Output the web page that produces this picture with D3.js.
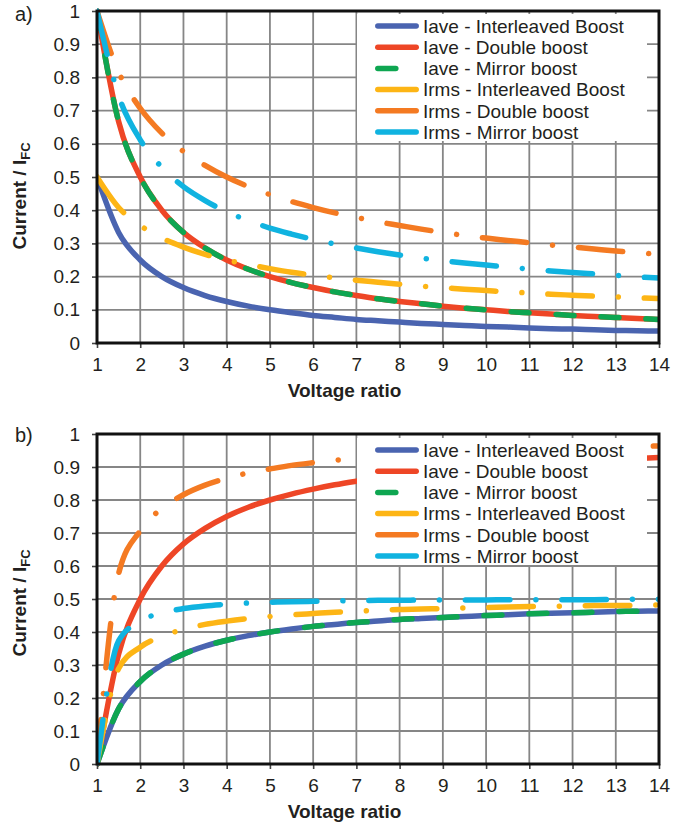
<!DOCTYPE html>
<html><head><meta charset="utf-8">
<script src="https://cdn.jsdelivr.net/npm/d3@7"></script>
<style>body{margin:0;background:#fff}svg{display:block}text{font-family:"Liberation Sans",Arial,Helvetica,sans-serif;fill:#231f20}</style>
</head><body><svg id="c" width="687" height="825"></svg>
<script>
// ---------- data ----------
const voltageRatio = [1,1.5,2,2.5,3,3.5,4,4.5,5,5.5,6,6.5,7,7.5,8,8.5,9,9.5,10,10.5,11,11.5,12,12.5,13,13.5,14];

// chart a)
const aIaveInterleaved = [0.5,0.333,0.25,0.2,0.167,0.143,0.125,0.111,0.1,0.091,0.083,0.077,0.071,0.067,0.063,0.059,0.056,0.053,0.05,0.048,0.045,0.043,0.042,0.04,0.038,0.037,0.036];
const aIaveDouble      = [1,0.667,0.5,0.4,0.333,0.286,0.25,0.222,0.2,0.182,0.167,0.154,0.143,0.133,0.125,0.118,0.111,0.105,0.1,0.095,0.091,0.087,0.083,0.08,0.077,0.074,0.071];
const aIaveMirror      = [1,0.667,0.5,0.4,0.333,0.286,0.25,0.222,0.2,0.182,0.167,0.154,0.143,0.133,0.125,0.118,0.111,0.105,0.1,0.095,0.091,0.087,0.083,0.08,0.077,0.074,0.071];
const aIrmsInterleaved = [0.5,0.408,0.354,0.316,0.289,0.267,0.25,0.236,0.224,0.213,0.204,0.196,0.189,0.183,0.177,0.171,0.167,0.162,0.158,0.154,0.151,0.147,0.144,0.141,0.139,0.136,0.134];
const aIrmsDouble      = [1,0.816,0.707,0.632,0.577,0.535,0.5,0.471,0.447,0.426,0.408,0.392,0.378,0.365,0.354,0.343,0.333,0.324,0.316,0.309,0.302,0.295,0.289,0.283,0.277,0.272,0.267];
const aIrmsMirror      = [1,0.745,0.612,0.529,0.471,0.429,0.395,0.369,0.346,0.328,0.312,0.298,0.286,0.275,0.265,0.256,0.248,0.241,0.235,0.228,0.223,0.217,0.212,0.208,0.204,0.199,0.196];

// chart b)
const bIaveInterleaved = [0,0.167,0.25,0.3,0.333,0.357,0.375,0.389,0.4,0.409,0.417,0.423,0.429,0.433,0.438,0.441,0.444,0.447,0.45,0.452,0.455,0.457,0.458,0.46,0.462,0.463,0.464];
const bIaveDouble      = [0,0.333,0.5,0.6,0.667,0.714,0.75,0.778,0.8,0.818,0.833,0.846,0.857,0.867,0.875,0.882,0.889,0.895,0.9,0.905,0.909,0.913,0.917,0.92,0.923,0.926,0.929];
const bIaveMirror      = [0,0.167,0.25,0.3,0.333,0.357,0.375,0.389,0.4,0.409,0.417,0.423,0.429,0.433,0.438,0.441,0.444,0.447,0.45,0.452,0.455,0.457,0.458,0.46,0.462,0.463,0.464];
const bIrmsInterleaved = [0,0.289,0.354,0.387,0.408,0.423,0.433,0.441,0.447,0.452,0.456,0.46,0.463,0.466,0.468,0.47,0.471,0.473,0.474,0.476,0.477,0.478,0.479,0.48,0.48,0.481,0.482];
const bIrmsDouble      = [0,0.577,0.707,0.775,0.816,0.845,0.866,0.882,0.894,0.905,0.913,0.92,0.926,0.931,0.935,0.939,0.943,0.946,0.949,0.951,0.953,0.956,0.957,0.959,0.961,0.962,0.964];
const bIrmsMirror      = [0,0.373,0.433,0.458,0.471,0.479,0.484,0.488,0.49,0.492,0.493,0.494,0.495,0.496,0.496,0.497,0.497,0.497,0.497,0.498,0.498,0.498,0.498,0.498,0.499,0.499,0.499];

const seriesNames = ["Iave - Interleaved Boost","Iave - Double boost","Iave - Mirror boost","Irms - Interleaved Boost","Irms - Double boost","Irms - Mirror boost"];
const xTickValues = [1,2,3,4,5,6,7,8,9,10,11,12,13,14];
const yTickValues = [0,0.1,0.2,0.3,0.4,0.5,0.6,0.7,0.8,0.9,1];

// ---------- styles ----------
const colors = ["#4a64b0","#ee4626","#0ea651","#fdb515","#f47a22","#10b3e0"];
const dashes = [null, null, "18,27", "44.5,26,0.01,26", "44.5,26,0.01,26", "44.5,26,0.01,26"];
const LW = 5.5;

const svg = d3.select("#c");
svg.append("rect").attr("width",687).attr("height",825).attr("fill","#fff");

function drawChart(cfg, idx){
  const x = d3.scaleLinear().domain([1,14]).range([97,659]);
  const y = d3.scaleLinear().domain([0,1]).range([cfg.y0, cfg.y1]);
  const g = svg.append("g");

  // grid
  g.append("g").selectAll("line").data(xTickValues.slice(1,-1)).join("line")
    .attr("x1",d=>x(d)).attr("x2",d=>x(d)).attr("y1",y(1)).attr("y2",y(0))
    .attr("stroke","#868686").attr("stroke-width",1.8);
  g.append("g").selectAll("line").data(yTickValues.slice(1,-1)).join("line")
    .attr("x1",x(1)).attr("x2",x(14)).attr("y1",d=>y(d)).attr("y2",d=>y(d))
    .attr("stroke","#868686").attr("stroke-width",1.8);

  // clip
  const cid = "clip"+idx;
  svg.append("defs").append("clipPath").attr("id",cid).append("rect")
    .attr("x",x(1)).attr("y",y(1)-8).attr("width",x(14)-x(1)).attr("height",y(0)-y(1)+16);

  const line = d3.line().x((d,i)=>x(voltageRatio[i])).y(d=>y(d)).curve(d3.curveMonotoneX);
  const sg = g.append("g").attr("clip-path",`url(#${cid})`);
  cfg.series.forEach((s,i)=>{
    sg.append("path").attr("d",line(s)).attr("fill","none")
      .attr("stroke",colors[i]).attr("stroke-width",LW)
      .attr("stroke-linecap","round").attr("stroke-linejoin","round")
      .attr("stroke-dasharray",dashes[i]);
  });

  // axes
  const fmt = d=>String(+d.toFixed(1));
  const ax = g.append("g").attr("transform",`translate(${x(1)},0)`)
    .call(d3.axisLeft(y).tickValues(yTickValues).tickFormat(fmt).tickSizeInner(5).tickSizeOuter(0).tickPadding(12));
  const bx = g.append("g").attr("transform",`translate(0,${y(0)})`)
    .call(d3.axisBottom(x).tickValues(xTickValues).tickFormat(d3.format("d")).tickSizeInner(5).tickSizeOuter(0).tickPadding(10));
  [ax,bx].forEach(a=>{
    a.select(".domain").remove();
    a.selectAll("line").attr("stroke","#444").attr("stroke-width",1.6);
    a.selectAll("text").attr("font-size",19).attr("fill","#231f20").attr("font-family","'Liberation Sans',Arial,sans-serif");
  });

  // frame
  g.append("rect").attr("x",x(1)).attr("y",y(1)).attr("width",x(14)-x(1)).attr("height",y(0)-y(1))
    .attr("fill","none").attr("stroke","#111").attr("stroke-width",3);

  // legend
  const lg = g.append("g");
  lg.append("rect").attr("x",357).attr("y",cfg.legTop).attr("width",290).attr("height",127).attr("fill","#fff");
  seriesNames.forEach((n,i)=>{
    const cy = cfg.legTop + 12 + i*21.2;
    lg.append("line").attr("x1",377.8).attr("x2",416.2).attr("y1",cy).attr("y2",cy)
      .attr("stroke",colors[i]).attr("stroke-width",LW).attr("stroke-linecap","round")
      .attr("stroke-dasharray",dashes[i]);
    lg.append("text").attr("x",423).attr("y",cy).attr("dy","0.36em").attr("font-size",19).text(n);
  });

  // titles
  g.append("text").attr("x",344.5).attr("y",cfg.xTitleY).attr("text-anchor","middle")
    .attr("font-size",19).attr("font-weight","bold").text("Voltage ratio");
  const yt = g.append("text").attr("transform",`translate(26,${cfg.yTitleMid}) rotate(-90)`)
    .attr("text-anchor","middle").attr("font-size",19).attr("font-weight","bold");
  yt.append("tspan").text("Current / I");
  yt.append("tspan").attr("font-size",13).attr("dy",4).text("FC");
  g.append("text").attr("x",15).attr("y",cfg.tagY).attr("font-size",20).text(cfg.tag);
}

drawChart({y0:343,y1:11,series:[aIaveInterleaved,aIaveDouble,aIaveMirror,aIrmsInterleaved,aIrmsDouble,aIrmsMirror],
  legTop:14,xTitleY:397,yTitleMid:196,tag:"a)",tagY:21},0);
drawChart({y0:764,y1:434,series:[bIaveInterleaved,bIaveDouble,bIaveMirror,bIrmsInterleaved,bIrmsDouble,bIrmsMirror],
  legTop:438,xTitleY:818,yTitleMid:603,tag:"b)",tagY:442},1);
</script></body></html>
